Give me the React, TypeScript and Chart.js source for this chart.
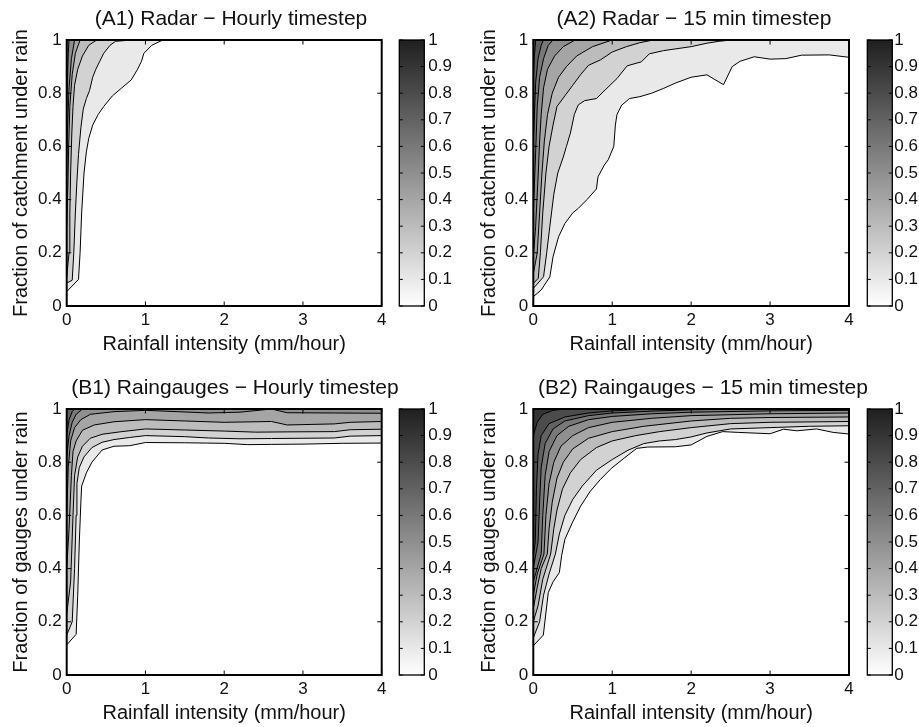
import React, { useEffect, useRef } from 'react';
import { Chart, registerables } from 'chart.js';

Chart.register(...registerables);

const FONT_FAMILY = '"Liberation Sans", Arial, Helvetica, sans-serif';
const TEXT_COLOR = '#111';

// ---------------- data ----------------
const contourLevels = [0.1, 0.2, 0.3, 0.4, 0.5, 0.6, 0.7, 0.8, 0.9];
const xRange = [0, 4];
const yRange = [0, 1];
const xTicks = [0, 1, 2, 3, 4];
const xTickLabels = ['0', '1', '2', '3', '4'];
const yTicks = [0, 0.2, 0.4, 0.6, 0.8, 1];
const yTickLabels = ['0', '0.2', '0.4', '0.6', '0.8', '1'];
const cbTicks = [0, 0.1, 0.2, 0.3, 0.4, 0.5, 0.6, 0.7, 0.8, 0.9, 1];
const cbTickLabels = ['0', '0.1', '0.2', '0.3', '0.4', '0.5', '0.6', '0.7', '0.8', '0.9', '1'];
const colorbarRange = [0, 1];
const colorbarCategory = [''];

const panelTitles = [
  '(A1) Radar \u2212 Hourly timestep',
  '(A2) Radar \u2212 15 min timestep',
  '(B1) Raingauges \u2212 Hourly timestep',
  '(B2) Raingauges \u2212 15 min timestep',
];
const xAxisLabel = 'Rainfall intensity (mm/hour)';
const yAxisLabels = [
  'Fraction of catchment under rain',
  'Fraction of catchment under rain',
  'Fraction of gauges under rain',
  'Fraction of gauges under rain',
];

// (A1) contour lines, [rainfall intensity, fraction]
const a1c01 = [[0, 0.054], [0.15, 0.1], [0.17, 0.2], [0.19, 0.35], [0.22, 0.5], [0.25, 0.58], [0.28, 0.63], [0.33, 0.68], [0.4, 0.72], [0.47, 0.75], [0.58, 0.79], [0.7, 0.82], [0.82, 0.85], [0.9, 0.89], [0.95, 0.92], [0.98, 0.95], [1.08, 0.98], [1.22, 1]];
const a1c02 = [[0, 0.086], [0.07, 0.097], [0.09, 0.2], [0.11, 0.35], [0.13, 0.47], [0.15, 0.57], [0.18, 0.67], [0.21, 0.74], [0.25, 0.78], [0.29, 0.81], [0.33, 0.86], [0.37, 0.89], [0.42, 0.92], [0.47, 0.95], [0.55, 0.98], [0.62, 0.995], [0.82, 1]];
const a1c03 = [[0, 0.11], [0.03, 0.2], [0.04, 0.35], [0.05, 0.5], [0.065, 0.65], [0.08, 0.75], [0.1, 0.83], [0.14, 0.89], [0.2, 0.94], [0.28, 0.98], [0.38, 1]];
const a1c04 = [[0, 0.3], [0.015, 0.45], [0.025, 0.6], [0.04, 0.75], [0.07, 0.87], [0.11, 0.95], [0.17, 1]];
const a1c05 = [[0, 0.55], [0.015, 0.7], [0.03, 0.82], [0.06, 0.93], [0.1, 1]];
const a1c06 = [[0, 0.75], [0.01, 0.85], [0.02, 0.95], [0.03, 1]];

// (A2)
const a2c01 = [[0, 0.035], [0.1, 0.06], [0.21, 0.11], [0.25, 0.185], [0.32, 0.26], [0.4, 0.31], [0.5, 0.35], [0.57, 0.367], [0.68, 0.4], [0.8, 0.44], [0.82, 0.486], [0.9, 0.53], [0.95, 0.55], [1.02, 0.6], [1.04, 0.68], [1.06, 0.72], [1.12, 0.755], [1.22, 0.78], [1.35, 0.787], [1.5, 0.8], [1.65, 0.818], [1.8, 0.838], [2.0, 0.86], [2.2, 0.869], [2.41, 0.832], [2.52, 0.9], [2.62, 0.92], [2.8, 0.937], [3.0, 0.928], [3.2, 0.93], [3.4, 0.943], [3.75, 0.944], [4, 0.935]];
const a2c02 = [[0, 0.066], [0.13, 0.11], [0.17, 0.2], [0.21, 0.3], [0.26, 0.42], [0.31, 0.5], [0.38, 0.56], [0.42, 0.6], [0.47, 0.65], [0.52, 0.72], [0.57, 0.756], [0.65, 0.772], [0.8, 0.78], [0.92, 0.815], [1.06, 0.855], [1.19, 0.903], [1.37, 0.918], [1.47, 0.948], [1.65, 0.96], [2.0, 0.975], [2.2, 0.988], [2.35, 0.995], [2.5, 1]];
const a2c03 = [[0, 0.085], [0.063, 0.104], [0.09, 0.2], [0.12, 0.35], [0.16, 0.5], [0.2, 0.6], [0.25, 0.68], [0.3, 0.75], [0.4, 0.79], [0.5, 0.83], [0.6, 0.87], [0.7, 0.905], [0.85, 0.925], [1.0, 0.955], [1.18, 0.975], [1.35, 0.99], [1.52, 1]];
const a2c04 = [[0, 0.12], [0.05, 0.2], [0.08, 0.35], [0.11, 0.5], [0.14, 0.62], [0.18, 0.72], [0.24, 0.8], [0.32, 0.86], [0.42, 0.9], [0.55, 0.94], [0.75, 0.975], [1.0, 1]];
const a2c05 = [[0, 0.18], [0.03, 0.3], [0.063, 0.5], [0.08, 0.62], [0.1, 0.72], [0.13, 0.82], [0.18, 0.89], [0.27, 0.94], [0.38, 0.975], [0.53, 1]];
const a2c06 = [[0, 0.35], [0.02, 0.5], [0.035, 0.62], [0.05, 0.75], [0.08, 0.86], [0.13, 0.93], [0.19, 0.98], [0.25, 1]];
const a2c07 = [[0, 0.6], [0.015, 0.72], [0.03, 0.84], [0.06, 0.93], [0.1, 0.98], [0.13, 1]];
const a2c08 = [[0, 0.85], [0.012, 0.93], [0.03, 1]];

// (B1)
const b1c01 = [[0, 0.113], [0.12, 0.153], [0.14, 0.3], [0.16, 0.5], [0.18, 0.65], [0.19, 0.71], [0.25, 0.76], [0.32, 0.8], [0.45, 0.846], [0.6, 0.86], [0.8, 0.862], [1.0, 0.874], [1.5, 0.873], [2.0, 0.871], [2.3, 0.866], [2.6, 0.867], [3.0, 0.868], [3.5, 0.871], [4, 0.872]];
const b1c02 = [[0, 0.15], [0.07, 0.2], [0.1, 0.4], [0.12, 0.6], [0.13, 0.72], [0.16, 0.78], [0.22, 0.82], [0.32, 0.855], [0.45, 0.875], [0.6, 0.885], [0.8, 0.893], [1.0, 0.9], [1.5, 0.896], [1.8, 0.891], [2.2, 0.888], [2.6, 0.889], [3.0, 0.89], [3.4, 0.891], [3.6, 0.898], [4, 0.9]];
const b1c03 = [[0, 0.23], [0.05, 0.35], [0.08, 0.6], [0.1, 0.75], [0.14, 0.82], [0.2, 0.86], [0.3, 0.89], [0.45, 0.905], [0.7, 0.915], [1.0, 0.925], [1.5, 0.921], [2.0, 0.917], [2.4, 0.913], [2.8, 0.914], [3.4, 0.915], [3.6, 0.922], [4, 0.924]];
const b1c04 = [[0, 0.4], [0.03, 0.55], [0.06, 0.75], [0.08, 0.84], [0.12, 0.88], [0.2, 0.92], [0.35, 0.94], [0.6, 0.952], [1.0, 0.96], [1.5, 0.955], [2.0, 0.95], [2.6, 0.953], [2.8, 0.94], [3.4, 0.944], [3.6, 0.95], [4, 0.953]];
const b1c05 = [[0, 0.6], [0.02, 0.78], [0.05, 0.88], [0.1, 0.93], [0.18, 0.96], [0.3, 0.98], [0.6, 0.99], [1.0, 0.995], [1.4, 0.99], [1.8, 0.985], [2.2, 0.988], [2.6, 1], [2.8, 0.986], [3.4, 0.985], [4, 0.984]];
const b1c06 = [[0, 0.82], [0.03, 0.9], [0.07, 0.95], [0.12, 0.98], [0.2, 1]];
const b1c07 = [[0, 0.9], [0.03, 0.96], [0.07, 0.99], [0.1, 1]];

// (B2)
const b2c01 = [[0, 0.11], [0.127, 0.15], [0.19, 0.31], [0.25, 0.35], [0.33, 0.385], [0.36, 0.45], [0.4, 0.51], [0.5, 0.576], [0.6, 0.635], [0.72, 0.69], [0.85, 0.735], [0.99, 0.777], [1.15, 0.815], [1.31, 0.852], [1.45, 0.857], [1.8, 0.858], [2.0, 0.865], [2.2, 0.897], [2.4, 0.915], [2.6, 0.912], [3.0, 0.907], [3.17, 0.924], [3.34, 0.918], [3.59, 0.925], [3.8, 0.912], [4, 0.906]];
const b2c02 = [[0, 0.14], [0.08, 0.2], [0.13, 0.3], [0.2, 0.38], [0.28, 0.455], [0.33, 0.53], [0.4, 0.6], [0.5, 0.66], [0.62, 0.71], [0.8, 0.77], [1.0, 0.81], [1.2, 0.845], [1.4, 0.87], [1.6, 0.88], [1.8, 0.885], [2.0, 0.895], [2.2, 0.91], [2.5, 0.925], [3.0, 0.93], [3.5, 0.935], [4, 0.937]];
const b2c03 = [[0, 0.2], [0.06, 0.26], [0.12, 0.36], [0.22, 0.455], [0.26, 0.55], [0.3, 0.62], [0.37, 0.7], [0.47, 0.76], [0.6, 0.81], [0.8, 0.855], [1.0, 0.88], [1.3, 0.9], [1.6, 0.915], [2.0, 0.93], [2.5, 0.945], [3.0, 0.95], [4, 0.953]];
const b2c04 = [[0, 0.25], [0.05, 0.33], [0.1, 0.4], [0.177, 0.455], [0.2, 0.55], [0.24, 0.65], [0.3, 0.74], [0.38, 0.8], [0.5, 0.85], [0.7, 0.89], [1.0, 0.915], [1.4, 0.935], [2.0, 0.955], [2.5, 0.965], [3.0, 0.968], [4, 0.97]];
const b2c05 = [[0, 0.3], [0.05, 0.38], [0.135, 0.455], [0.16, 0.6], [0.2, 0.72], [0.26, 0.8], [0.35, 0.86], [0.5, 0.9], [0.7, 0.93], [1.0, 0.95], [1.5, 0.965], [2.0, 0.975], [3.0, 0.982], [4, 0.985]];
const b2c06 = [[0, 0.35], [0.1, 0.455], [0.12, 0.6], [0.15, 0.75], [0.2, 0.84], [0.3, 0.9], [0.45, 0.935], [0.7, 0.96], [1.0, 0.972], [1.5, 0.982], [2.0, 0.988], [3.0, 0.993], [4, 0.995]];
const b2c07 = [[0, 0.4], [0.06, 0.5], [0.08, 0.65], [0.1, 0.78], [0.15, 0.87], [0.25, 0.925], [0.4, 0.955], [0.7, 0.975], [1.0, 0.985], [1.5, 0.992], [2.0, 0.997], [2.5, 1]];
const b2c08 = [[0, 0.45], [0.025, 0.5], [0.04, 0.7], [0.06, 0.83], [0.1, 0.9], [0.2, 0.945], [0.4, 0.97], [0.7, 0.985], [1.0, 0.993], [1.5, 1]];
const b2c09 = [[0, 0.9], [0.05, 0.95], [0.12, 0.98], [0.25, 0.995], [0.4, 1]];

const a1Contours = [a1c01, a1c02, a1c03, a1c04, a1c05, a1c06];
const a2Contours = [a2c01, a2c02, a2c03, a2c04, a2c05, a2c06, a2c07, a2c08];
const b1Contours = [b1c01, b1c02, b1c03, b1c04, b1c05, b1c06, b1c07];
const b2Contours = [b2c01, b2c02, b2c03, b2c04, b2c05, b2c06, b2c07, b2c08, b2c09];

// ---------------- layout (page pixels) ----------------
const panels = [
  { contours: a1Contours, title: panelTitles[0], yLabel: yAxisLabels[0], top: 0, chartLeft: 66.7, chartRight: 381.7, canvasLeft: 4, titleCenter: 230.8, yTitleCenter: 21, cbLeft: 399.3, cbRight: 424.3, cbCanvasLeft: 397, cbCanvasWidth: 60, cbPad: 4 },
  { contours: a2Contours, title: panelTitles[1], yLabel: yAxisLabels[1], top: 0, chartLeft: 533.3, chartRight: 849, canvasLeft: 471, titleCenter: 694, yTitleCenter: 489, cbLeft: 867.3, cbRight: 892.3, cbCanvasLeft: 865, cbCanvasWidth: 54, cbPad: 2 },
  { contours: b1Contours, title: panelTitles[2], yLabel: yAxisLabels[2], top: 369, chartLeft: 66.7, chartRight: 381.7, canvasLeft: 4, titleCenter: 235, yTitleCenter: 21, cbLeft: 399.3, cbRight: 424.3, cbCanvasLeft: 397, cbCanvasWidth: 60, cbPad: 4 },
  { contours: b2Contours, title: panelTitles[3], yLabel: yAxisLabels[3], top: 369, chartLeft: 533.3, chartRight: 849, canvasLeft: 471, titleCenter: 703, yTitleCenter: 489, cbLeft: 867.3, cbRight: 892.3, cbCanvasLeft: 865, cbCanvasWidth: 54, cbPad: 2 },
];
const CANVAS_H = 360;
const PLOT_TOP = 40;
const PLOT_BOTTOM = 306;
const TITLE_SIZE = 21;
const TICK_SIZE = 17;
const AXIS_TITLE_SIZE = 20;

function bandColor(level: number) {
  const g = Math.round(255 - 224 * level);
  return `rgb(${g},${g},${g})`;
}

function labelFor(values: number[], labels: string[]) {
  return (v: any) => {
    const i = values.findIndex((t) => Math.abs(t - Number(v)) < 1e-9);
    return i >= 0 ? labels[i] : '';
  };
}

const axesFramePlugin = {
  id: 'axesFrame',
  afterDraw(chart: any) {
    const { ctx, chartArea: a, scales } = chart;
    const xs = scales.x;
    const ys = scales.y;
    const tl = 4.5;
    ctx.save();
    ctx.strokeStyle = '#000';
    ctx.lineWidth = 1;
    ctx.beginPath();
    xs.ticks.forEach((t: any) => {
      const p = xs.getPixelForValue(t.value);
      ctx.moveTo(p, a.bottom);
      ctx.lineTo(p, a.bottom - tl);
      ctx.moveTo(p, a.top);
      ctx.lineTo(p, a.top + tl);
    });
    ys.ticks.forEach((t: any) => {
      const p = ys.getPixelForValue(t.value);
      ctx.moveTo(a.left, p);
      ctx.lineTo(a.left + tl, p);
      ctx.moveTo(a.right, p);
      ctx.lineTo(a.right - tl, p);
    });
    ctx.stroke();
    ctx.lineWidth = 2;
    ctx.strokeRect(a.left, a.top, a.right - a.left, a.bottom - a.top);
    ctx.restore();
  },
};

const colorbarFramePlugin = {
  id: 'colorbarFrame',
  afterDraw(chart: any) {
    const { ctx, chartArea: a, scales } = chart;
    const ys = scales.y;
    const tl = 3.5;
    ctx.save();
    ctx.strokeStyle = '#000';
    ctx.lineWidth = 1;
    ctx.beginPath();
    ys.ticks.forEach((t: any) => {
      const p = ys.getPixelForValue(t.value);
      ctx.moveTo(a.left, p);
      ctx.lineTo(a.left + tl, p);
      ctx.moveTo(a.right, p);
      ctx.lineTo(a.right - tl, p);
    });
    ctx.stroke();
    ctx.lineWidth = 1.3;
    ctx.strokeRect(a.left, a.top, a.right - a.left, a.bottom - a.top);
    ctx.restore();
  },
};

function contourConfig(p: any, width: number) {
  const yW = p.chartLeft - p.canvasLeft;
  const rW = p.canvasLeft + width - p.chartRight;
  const datasets = p.contours.map((pts: number[][], i: number) => ({
    data: pts.map(([x, y]) => ({ x, y })),
    borderColor: '#000',
    borderWidth: 1,
    backgroundColor: bandColor(contourLevels[i]),
    fill: 'end',
    pointRadius: 0,
    pointHoverRadius: 0,
    tension: 0,
    order: 100 - i,
  }));
  const titleLine = TITLE_SIZE * 1.2;
  return {
    type: 'line',
    data: { datasets },
    options: {
      animation: false,
      responsive: false,
      maintainAspectRatio: false,
      devicePixelRatio: 1,
      events: [],
      layout: { padding: 0 },
      plugins: {
        legend: { display: false },
        tooltip: { enabled: false },
        title: {
          display: true,
          text: p.title,
          color: TEXT_COLOR,
          font: { family: FONT_FAMILY, size: TITLE_SIZE, weight: 'normal', lineHeight: 1.2 },
          padding: { top: 19.5 - titleLine / 2, bottom: PLOT_TOP - 19.5 - titleLine / 2 },
        },
      },
      scales: {
        x: {
          type: 'linear',
          min: xRange[0],
          max: xRange[1],
          afterBuildTicks: (s: any) => { s.ticks = xTicks.map((v) => ({ value: v })); },
          afterFit: (s: any) => { s.height = CANVAS_H - PLOT_BOTTOM; },
          grid: { display: false, drawTicks: false },
          border: { display: false },
          ticks: {
            color: TEXT_COLOR,
            font: { family: FONT_FAMILY, size: TICK_SIZE },
            padding: 4,
            autoSkip: false,
            maxRotation: 0,
            minRotation: 0,
            callback: labelFor(xTicks, xTickLabels),
          },
          title: {
            display: true,
            text: xAxisLabel,
            color: TEXT_COLOR,
            font: { family: FONT_FAMILY, size: AXIS_TITLE_SIZE, lineHeight: 1.2 },
            padding: { top: 0, bottom: 3.5 },
          },
        },
        y: {
          type: 'linear',
          position: 'left',
          min: yRange[0],
          max: yRange[1],
          afterBuildTicks: (s: any) => { s.ticks = yTicks.map((v) => ({ value: v })); },
          afterFit: (s: any) => { s.width = yW; },
          grid: { display: false, drawTicks: false },
          border: { display: false },
          ticks: {
            color: TEXT_COLOR,
            font: { family: FONT_FAMILY, size: TICK_SIZE },
            padding: 5,
            autoSkip: false,
            callback: labelFor(yTicks, yTickLabels),
          },
          title: {
            display: true,
            text: p.yLabel,
            color: TEXT_COLOR,
            font: { family: FONT_FAMILY, size: AXIS_TITLE_SIZE, lineHeight: 1.2 },
            padding: { top: p.yTitleCenter - p.canvasLeft - AXIS_TITLE_SIZE * 0.6, bottom: 0 },
          },
        },
        y2: {
          type: 'linear',
          position: 'right',
          min: yRange[0],
          max: yRange[1],
          afterFit: (s: any) => { s.width = rW; },
          grid: { display: false, drawTicks: false },
          border: { display: false },
          ticks: { display: false },
        },
      },
    },
    plugins: [axesFramePlugin],
  };
}

function colorbarConfig(p: any) {
  const yW = p.cbCanvasWidth - (p.cbLeft - p.cbCanvasLeft) - (p.cbRight - p.cbLeft);
  return {
    type: 'bar',
    data: {
      labels: colorbarCategory,
      datasets: [
        {
          data: [colorbarRange],
          borderWidth: 0,
          barPercentage: 1,
          categoryPercentage: 1,
          backgroundColor: (ctx: any) => {
            const area = ctx.chart.chartArea;
            if (!area) return 'rgb(200,200,200)';
            const g = ctx.chart.ctx.createLinearGradient(0, area.bottom, 0, area.top);
            g.addColorStop(0, bandColor(colorbarRange[0]));
            g.addColorStop(1, bandColor(colorbarRange[1]));
            return g;
          },
        },
      ],
    },
    options: {
      animation: false,
      responsive: false,
      maintainAspectRatio: false,
      devicePixelRatio: 1,
      events: [],
      layout: { padding: { left: p.cbLeft - p.cbCanvasLeft, right: 0, top: PLOT_TOP, bottom: CANVAS_H - PLOT_BOTTOM } },
      plugins: { legend: { display: false }, tooltip: { enabled: false } },
      scales: {
        x: { display: false },
        y: {
          type: 'linear',
          position: 'right',
          min: colorbarRange[0],
          max: colorbarRange[1],
          afterBuildTicks: (s: any) => { s.ticks = cbTicks.map((v) => ({ value: v })); },
          afterFit: (s: any) => { s.width = yW; },
          grid: { display: false, drawTicks: false },
          border: { display: false },
          ticks: {
            color: TEXT_COLOR,
            font: { family: FONT_FAMILY, size: TICK_SIZE },
            padding: p.cbPad,
            autoSkip: false,
            callback: labelFor(cbTicks, cbTickLabels),
          },
        },
      },
    },
    plugins: [colorbarFramePlugin],
  };
}

function ChartCanvas({ make, left, top, width, height }: any) {
  const ref = useRef<HTMLCanvasElement>(null);
  useEffect(() => {
    const chart = new Chart(ref.current as HTMLCanvasElement, make());
    return () => chart.destroy();
  }, []);
  return (
    <canvas
      ref={ref}
      width={width}
      height={height}
      style={{ position: 'absolute', left, top, width, height }}
    />
  );
}

export default function App() {
  return (
    <div
      style={{
        position: 'absolute',
        left: 0,
        top: 0,
        width: 919,
        height: 727,
        overflow: 'hidden',
        background: '#fff',
      }}
    >
      {panels.map((p, i) => {
        const w = Math.round(2 * (p.titleCenter - p.canvasLeft));
        return (
          <React.Fragment key={i}>
            <ChartCanvas
              make={() => contourConfig(p, w)}
              left={p.canvasLeft}
              top={p.top}
              width={w}
              height={CANVAS_H}
            />
            <ChartCanvas
              make={() => colorbarConfig(p)}
              left={p.cbCanvasLeft}
              top={p.top}
              width={p.cbCanvasWidth}
              height={CANVAS_H}
            />
          </React.Fragment>
        );
      })}
    </div>
  );
}
